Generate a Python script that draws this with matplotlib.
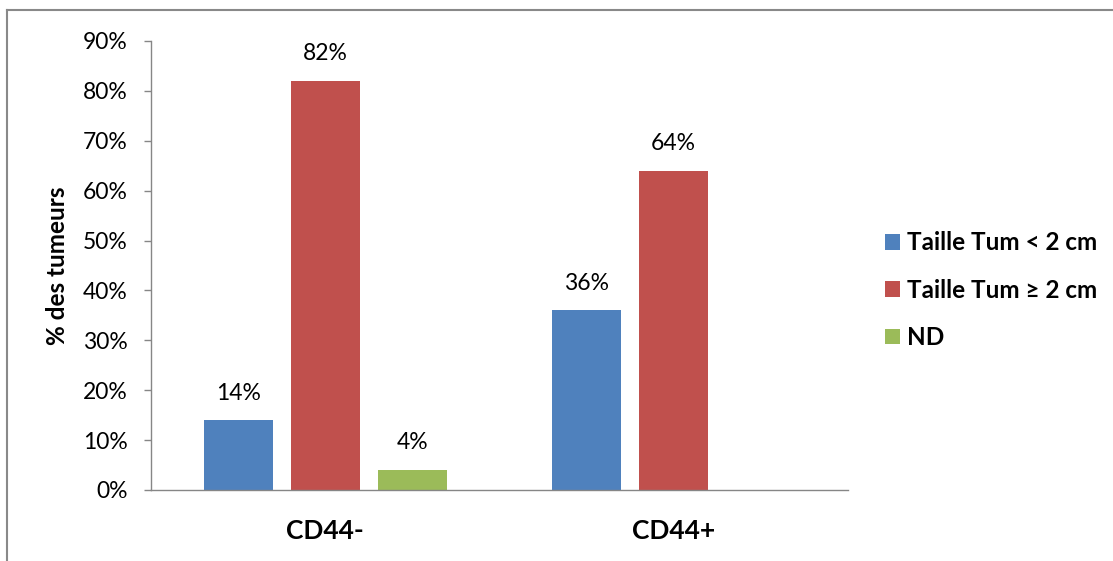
import matplotlib.pyplot as plt
import numpy as np
from matplotlib.lines import Line2D
from matplotlib.ticker import PercentFormatter

# ---------------------------------------------------------------------------
# Data
# ---------------------------------------------------------------------------
groups = ["CD44-", "CD44+"]
series_names = ["Taille Tum < 2 cm", "Taille Tum \u2265 2 cm", "ND"]
small_tum = [0.14, 0.36]
large_tum = [0.82, 0.64]
nd_tum = [0.04, None]
colors = ["#4F81BD", "#C0504D", "#9BBB59"]

plt.rcParams["font.family"] = ["Lato", "DejaVu Sans"]

W, H = 1113, 561
fig = plt.figure(figsize=(W / 100, H / 100), dpi=100)
ax = fig.add_axes([151 / W, 1 - 490 / H, (848 - 151) / W, (490 - 41) / H])

x = np.arange(len(groups))
width = 0.198
step = 0.25
grey = "#868686"

for i, (vals, name, col) in enumerate(zip([small_tum, large_tum, nd_tum],
                                          series_names, colors)):
    xs = [xi + (i - 1) * step for xi, v in zip(x, vals) if v is not None]
    vs = [v for v in vals if v is not None]
    bars = ax.bar(xs, vs, width=width, color=col, label=name)
    for b, v in zip(bars, vs):
        ax.annotate(f"{v * 100:.0f}%", (b.get_x() + b.get_width() / 2, v),
                    xytext=(0, 19.5), textcoords="offset points",
                    ha="center", va="center", fontsize=16.5)

ax.set_xlim(-0.5, 1.5)
ax.set_ylim(0, 0.9)
ax.set_yticks(np.arange(0, 0.91, 0.1))
ax.yaxis.set_major_formatter(PercentFormatter(1.0, decimals=0))
ax.set_xticks(x)
ax.set_xticklabels(groups, fontsize=19, fontweight="bold")
ax.tick_params(axis="x", length=0, pad=21)
ax.tick_params(axis="y", length=5, width=1, color=grey, labelsize=16.5, pad=12)

for side in ["top", "right"]:
    ax.spines[side].set_visible(False)
for side in ["left", "bottom"]:
    ax.spines[side].set_color(grey)
    ax.spines[side].set_linewidth(1)

ax.set_ylabel("% des tumeurs", fontsize=17.5, fontweight="bold", labelpad=10)

leg = ax.legend(loc="center left", bbox_to_anchor=(1.053, 0.445), frameon=False,
                borderpad=0, borderaxespad=0,
                prop={"size": 17.5, "weight": "bold"}, handlelength=0.62,
                handleheight=0.62, handletextpad=0.3, labelspacing=1.0)

# outer chart frame (top and left edges only are in view)
fx = 7 / W
fy = 1 - 10 / H
fig.add_artist(Line2D([fx, 1], [fy, fy], transform=fig.transFigure,
                      color="#898989", lw=1.5))
fig.add_artist(Line2D([fx, fx], [0, fy], transform=fig.transFigure,
                      color="#898989", lw=1.5))

fig.savefig("out.png", dpi=100, facecolor="white")
